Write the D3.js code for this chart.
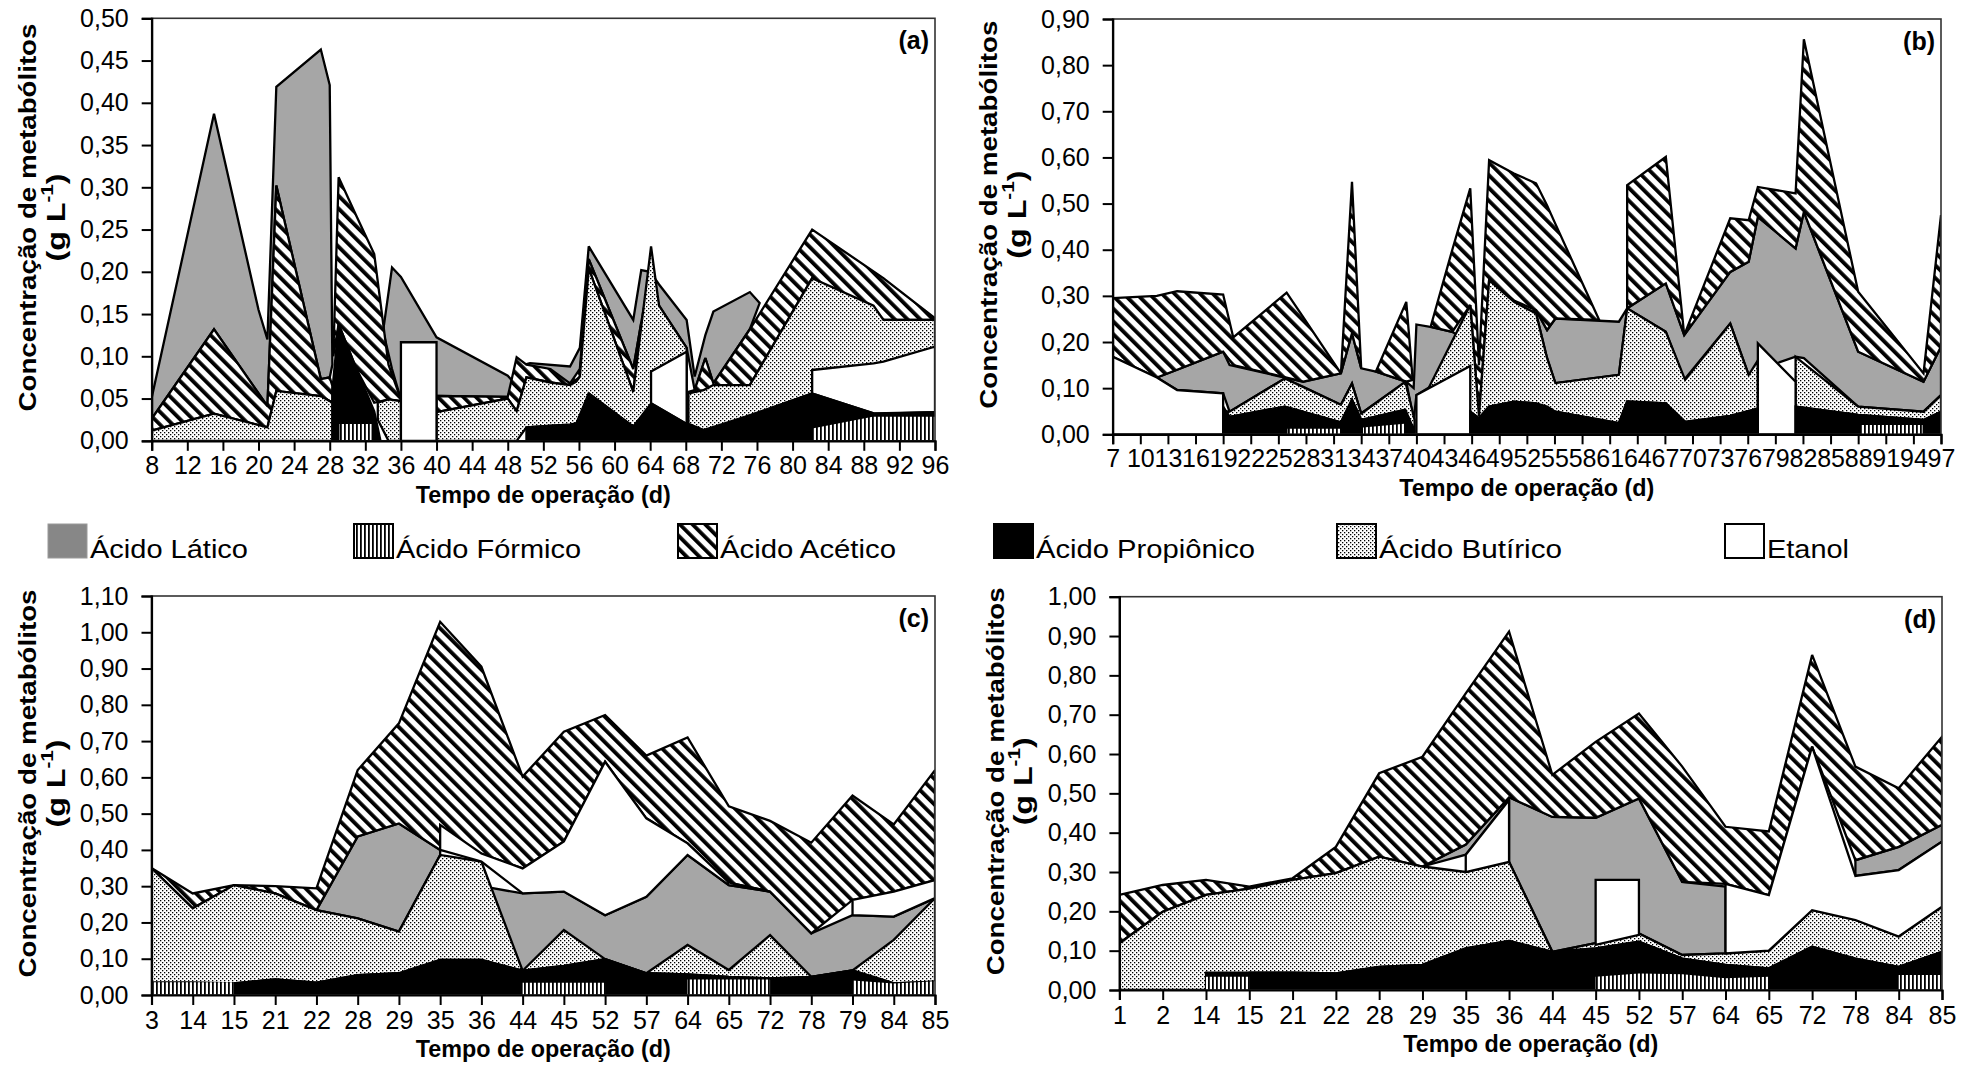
<!DOCTYPE html>
<html>
<head>
<meta charset="utf-8">
<script src="https://cdn.jsdelivr.net/npm/d3@7"></script>
<style>
  html, body { margin: 0; padding: 0; background: #fff; }
  svg text { font-family: "Liberation Sans", Arial, Helvetica, sans-serif; fill: #000; }
</style>
</head>
<body>
<svg id="chart" width="1979" height="1071"></svg>
<script>
// ---------------------------------------------------------------------------
// Metabolite concentrations (g/L) over operation time, four reactors (a)-(d).
// Each series is a list of [x, lower, upper] points; null breaks the polygon.
// Panels (a) and (b) use operation day as x, (c) and (d) use sampling days
// as categories.
// ---------------------------------------------------------------------------

const seriesNames = {
  latico: "Ácido Lático",
  formico: "Ácido Fórmico",
  acetico: "Ácido Acético",
  propionico: "Ácido Propiônico",
  butirico: "Ácido Butírico",
  etanol: "Etanol"
};

// ----- (a) -----
const aTicks = [8, 12, 16, 20, 24, 28, 32, 36, 40, 44, 48, 52, 56, 60, 64, 68, 72, 76, 80, 84, 88, 92, 96];
const aYTicks = [0, 0.05, 0.10, 0.15, 0.20, 0.25, 0.30, 0.35, 0.40, 0.45, 0.50];

const aLatico = [
  [8, .026, .051], [15, .132, .387], [20, .056, .155], [21, .041, .12], [22, .302, .419],
  [27, .073, .463], [28, .075, .421], [28.3, .09, .09], null,
  [34, .13, .13], [35, .085, .205], [36, .049, .194], [40, .053, .1225], [48, .052, .077],
  [48.6, .07, .07], null,
  [49.8, .09, .09], [50.5, .085, .092], [55, .068, .088], [56.1, .076, .11], [57.1, .215, .23],
  [62.1, .085, .143], [63, .14, .202], [64, .2, .2], [65, .16, .185], [68.1, .11, .143],
  [69, .06, .076], [70.2, .098, .125], [71.1, .068, .153], [75.2, .132, .176], [76.3, .163, .163]
];
const aAcetico = [
  [8, .012, .026], [15, .032, .132], [21, .016, .041], [22, .059, .302], [27, .053, .073],
  [28, .047, .075], [28.3, .046, .065], null,
  [28.4, .1, .1], [29, .138, .312], [31, .085, .266], [33, .045, .221], [34.6, .049, .09],
  [36, .047, .049], null,
  [40, .034, .053], [48, .05, .052], [49, .035, .099], [50.1, .075, .09], [52.8, .069, .085],
  [55, .066, .068], [56.1, .076, .085], [57.1, .204, .215], [62.1, .058, .085], [63, .139, .14], null,
  [68.3, .056, .058], [69, .058, .06], [70.2, .06, .098], [71.1, .066, .068], [75.2, .066, .132],
  [82.2, .1925, .25], [90.2, .143, .1925], [96, .143, .145]
];
const aButirico = [
  [8, 0, .012], [15, 0, .032], [21, 0, .016], [22, 0, .059], [27, 0, .053], [28, 0, .047],
  [28.3, 0, .046], null,
  [33.4, .025, .045], [34.6, 0, .049], [36, 0, .047], null,
  [40, 0, .034], [48, 0, .05], [49, 0, .035], [50.1, .016, .075], [52.8, .018, .069],
  [55, .019, .066], [55.7, .0206, .07], [56.1, .025, .076], [57.1, .056, .204], [62.1, .0166, .058],
  [64.1, .044, .23], [65, .04, .16], [68.1, .02, .11], null,
  [68.3, .02, .056], [70, .0126, .06], [71.1, .015, .066], [75.2, .03, .066], [82.2, .056, .1925],
  [89.1, .0324, .16], [90.2, .032, .143], [96, .034, .143]
];
const aEtanol = [
  [36, 0, .1166], [40, 0, .1166], null,
  [64.1, .044, .082], [68.1, .02, .1055], null,
  [82.2, .056, .0838], [89.1, .0324, .0915], [90.2, .032, .0937], [96, .034, .1115]
];
const aPropionico = [
  [28.3, 0, .06], [29, 0, .138], [31, 0, .085], [33, 0, .035], [33.7, 0, 0], null,
  [50.1, 0, .016], [55, 0, .019], [55.7, 0, .0206], [57.1, 0, .056], [62.1, 0, .0166],
  [64.2, 0, .044], [68.1, 0, .02], [70, 0, .0126], [75.2, 0, .03], [82.2, 0, .056],
  [89.1, 0, .0324], [96, 0, .034]
];
const aFormico = [
  [29.1, 0, .0198], [32.7, 0, .0198], null,
  [82.2, 0, .0146], [89, 0, .0285], [96, 0, .0285]
];

// ----- (b) -----
const bTicks = [7, 10, 13, 16, 19, 22, 25, 28, 31, 34, 37, 40, 43, 46, 49, 52, 55, 58, 61, 64, 67, 70, 73, 76, 79, 82, 85, 88, 91, 94, 97];
const bYTicks = [0, 0.10, 0.20, 0.30, 0.40, 0.50, 0.60, 0.70, 0.80, 0.90];

const bLatico = [
  [11.8, .123, .123], [14, .096, .14], [19, .089, .179], [19.7, .049, .15], [25.7, .121, .123],
  [27.7, .103, .114], [31.8, .064, .132], [33, .11, .219], [34, .045, .143], [35.6, .068, .136],
  [38.9, .114, .114], [39.7, .031, .1], [40, .085, .238], [41.5, .103, .233], [43.9, .178, .222],
  [44.8, .21, .21], null,
  [52.5, .265, .265], [53, .262, .269], [54.2, .165, .226], [55.1, .111, .251], [62, .129, .244],
  [62.9, .273, .273], [67.1, .222, .327], [69.1, .118, .215], [74.1, .24, .352], [76.1, .1285, .374],
  [77.1, .14, .471], [81.2, .168, .403], [82.1, .165, .482], [88, .06, .179], [95.1, .049, .114],
  [97, .085, .19]
];
const bAcetico = [
  [7, .168, .295], [11.8, .123, .30], [14, .14, .31], [19, .179, .303], [20.1, .15, .21],
  [25.9, .123, .307], [27.7, .114, .254], [31.8, .132, .132], [33, .219, .547], [34, .143, .143], null,
  [35.6, .136, .136], [38.9, .114, .287], [39.6, .118, .118], null,
  [41.6, .233, .237], [43.9, .222, .40], [45.85, .28, .533], [46.8, .04, .15], [47.9, .334, .594],
  [50.6, .29, .565], [53, .269, .544], [54.2, .226, .496], [55.1, .251, .456], [59.85, .248, .248], null,
  [62.9, .273, .54], [67.1, .327, .601], [69.1, .215, .215], [74.1, .352, .468], [76.1, .374, .464],
  [77.1, .471, .536], [81.2, .403, .522], [82.1, .482, .856], [88, .179, .309], [95.1, .114, .132],
  [97, .19, .475]
];
const bButirico = [
  [19.2, .05, .05], [19.7, .038, .049], [25.7, .06, .121], [31.8, .026, .064], [33, .075, .11],
  [34, .031, .045], [38.8, .053, .114], [39.8, .006, .031], null,
  [41.4, .103, .103], [45.85, .049, .28], [46.8, .035, .04], [47.9, .06, .334], [50.6, .071, .287],
  [53, .067, .262], [54.2, .06, .165], [55.1, .049, .111], [62, .024, .129], [62.9, .071, .273],
  [67.1, .067, .222], [69.2, .027, .118], [74.1, .04, .24], [76.1, .05, .1285], [77.1, .056, .16], null,
  [81.2, .06, .168], [88, .042, .06], [95.1, .031, .049], [97, .049, .085]
];
const bEtanol = [
  [7, 0, .168], [11.8, 0, .123], [14, 0, .096], [19, 0, .089], null,
  [40, 0, .085], [45.85, 0, .148], null,
  [77.1, 0, .197], [81.2, 0, .114]
];
const bPropionico = [
  [19, 0, .06], [19.7, 0, .038], [25.7, 0, .06], [31.8, 0, .026], [33, 0, .075], [34, 0, .031],
  [38.7, 0, .053], [39.8, 0, .006], null,
  [45.85, 0, .049], [46.8, 0, .035], [47.9, 0, .06], [50.6, 0, .071], [53, 0, .067], [55.1, 0, .049],
  [62, 0, .024], [62.9, 0, .071], [67.1, 0, .067], [69.2, 0, .027], [74.1, 0, .04], [77.1, 0, .056], null,
  [81.2, 0, .06], [88, 0, .042], [95.1, 0, .031], [97, 0, .049]
];
const bFormico = [
  [26, 0, .012], [31.8, 0, .012], null,
  [34.2, 0, .015], [38.7, 0, .023], null,
  [88.2, 0, .02], [95, 0, .02]
];

// ----- (c) -----
const cCats = [3, 14, 15, 21, 22, 28, 29, 35, 36, 44, 45, 52, 57, 64, 65, 72, 78, 79, 84, 85];
const cYTicks = [0, 0.10, 0.20, 0.30, 0.40, 0.50, 0.60, 0.70, 0.80, 0.90, 1.00, 1.10];

const cLatico = [
  [22, .234, .234], [28, .211, .437], [29, .175, .473], [35, .386, .40], null,
  [36, .0965, .30], [44, .067, .28], [45, .08, .285], [52, .099, .22], [57, .06, .271], [64, .057, .386],
  [65, .05, .303], [72, .046, .285], [78, .05, .17], [79, .068, .22], [84, .032, .216], [85, .037, .267]
];
const cAcetico = [
  [3, .35, .35], [14, .239, .28], [15, .303, .303], [21, .28, .30], [22, .234, .294], [28, .437, .62],
  [29, .473, .749], [35, .40, 1.029], [36, .39, .905], [44, .349, .602], [45, .423, .726],
  [52, .643, .772], [57, .487, .66], [64, .418, .71], [65, .31, .52], [72, .285, .48], [78, .17, .42],
  [79, .262, .55], [84, .285, .47], [85, .317, .62]
];
const cButirico = [
  [3, .035, .35], [14, .035, .239], [15, .032, .303], [21, .043, .28], [22, .034, .234], [28, .055, .211],
  [29, .06, .175], [35, .0965, .386], [36, .0965, .368], [44, .067, .067], [45, .08, .179], [52, .099, .099],
  [57, .06, .06], [64, .057, .138], [65, .05, .069], [72, .046, .165], [78, .05, .05], [79, .068, .068],
  [84, .032, .152], [85, .037, .267]
];
const cEtanol = [
  [35, .40, .469], [36, .368, .39], [44, .28, .349], [45, .285, .423], [52, .22, .643], [57, .271, .487],
  [64, .386, .418], [65, .303, .31], [72, .285, .285], null,
  [79, .22, .262], [84, .216, .285], [85, .267, .317]
];
const cPropionico = [
  [15, 0, .032], [21, 0, .043], [22, 0, .034], [28, 0, .055], [29, 0, .06], [35, 0, .0965], [36, 0, .0965],
  [44, 0, .067], [45, 0, .08], [52, 0, .099], [57, 0, .06], [64, 0, .057], [65, 0, .05], [72, 0, .046],
  [78, 0, .05], [79, 0, .068], [84, 0, .032], [85, 0, .037]
];
const cFormico = [
  [3, 0, .035], [14, 0, .035], [15, 0, .035], null,
  [44, 0, .034], [45, 0, .034], [52, 0, .034], null,
  [64, 0, .043], [65, 0, .043], [72, 0, .043], null,
  [79, 0, .04], [84, 0, .032], [85, 0, .038]
];

// ----- (d) -----
const dCats = [1, 2, 14, 15, 21, 22, 28, 29, 35, 36, 44, 45, 52, 57, 64, 65, 72, 78, 84, 85];
const dYTicks = [0, 0.10, 0.20, 0.30, 0.40, 0.50, 0.60, 0.70, 0.80, 0.90, 1.00];

const dLatico = [
  [29, .314, .314], [35, .344, .37], [36, .483, .49], null,
  [36, .326, .49], [44, .097, .44], [45, .119, .438], [52, .144, .487], [57, .089, .275], [64, .093, .263], null,
  [78, .29, .33], [84, .305, .364], [85, .377, .42]
];
const dAcetico = [
  [1, .119, .242], [2, .199, .267], [14, .242, .28], [15, .258, .263], [21, .28, .284], [22, .297, .364],
  [28, .339, .551], [29, .314, .593], [35, .37, .754], [36, .49, .911], [44, .44, .547], [45, .438, .631],
  [52, .487, .703], [57, .275, .568], [64, .27, .415], [65, .2415, .403], [72, .619, .852], [78, .33, .568],
  [84, .364, .513], [85, .42, .644]
];
const dButirico = [
  [1, 0, .119], [2, 0, .199], [14, 0, .242], [15, .044, .258], [21, .044, .28], [22, .042, .297],
  [28, .059, .339], [29, .064, .314], [35, .106, .30], [36, .125, .326], [44, .097, .097], [45, .106, .119],
  [52, .123, .144], [57, .08, .089], [64, .064, .093], [65, .055, .10], [72, .11, .203], [78, .08, .178],
  [84, .059, .136], [85, .097, .212]
];
const dEtanol = [
  [35, .30, .344], [36, .326, .483], null,
  [45, .115, .28], [52, .14, .28], null,
  [64, .093, .27], [65, .10, .2415], [72, .203, .619], [78, .178, .29], [84, .136, .305], [85, .212, .377]
];
const dPropionico = [
  [14, 0, .044], [15, 0, .044], [21, 0, .044], [22, 0, .042], [28, 0, .059], [29, 0, .064], [35, 0, .106],
  [36, 0, .125], [44, 0, .097], [45, 0, .106], [52, 0, .123], [57, 0, .08], [64, 0, .064], [65, 0, .055],
  [72, 0, .11], [78, 0, .08], [84, 0, .059], [85, 0, .097]
];
const dFormico = [
  [14, 0, .034], [15, 0, .034], null,
  [45, 0, .034], [52, 0, .042], [57, 0, .04], [64, 0, .03], [65, 0, .034], null,
  [84, 0, .038], [85, 0, .038]
];

// ---------------------------------------------------------------------------
// Layout
// ---------------------------------------------------------------------------
const panels = [
  { label: "(a)", type: "linear", domain: [8, 96], ticks: aTicks, yMax: 0.5, yTicks: aYTicks,
    left: 151.7, right: 935, top: 18.3, bottom: 440.8, labelPad: 5,
    series: { latico: aLatico, acetico: aAcetico, butirico: aButirico, etanol: aEtanol, propionico: aPropionico, formico: aFormico } },
  { label: "(b)", type: "linear", domain: [7, 97], ticks: bTicks, yMax: 0.9, yTicks: bYTicks,
    left: 1112.7, right: 1941, top: 19, bottom: 434.3, labelPad: 5,
    series: { latico: bLatico, acetico: bAcetico, butirico: bButirico, etanol: bEtanol, propionico: bPropionico, formico: bFormico } },
  { label: "(c)", type: "point", cats: cCats, yMax: 1.1, yTicks: cYTicks,
    left: 151.5, right: 935, top: 596, bottom: 995, labelPad: 6,
    series: { latico: cLatico, acetico: cAcetico, butirico: cButirico, etanol: cEtanol, propionico: cPropionico, formico: cFormico } },
  { label: "(d)", type: "point", cats: dCats, yMax: 1.0, yTicks: dYTicks,
    left: 1119.4, right: 1942, top: 596.7, bottom: 990, labelPad: 6,
    series: { latico: dLatico, acetico: dAcetico, butirico: dButirico, etanol: dEtanol, propionico: dPropionico, formico: dFormico } }
];

const svg = d3.select("#chart");
const defs = svg.append("defs");

// Fill patterns
(function buildPatterns() {
  const f = defs.append("pattern").attr("id", "pat-formico")
    .attr("patternUnits", "userSpaceOnUse").attr("width", 4).attr("height", 10);
  f.append("rect").attr("width", 4).attr("height", 10).attr("fill", "#fff");
  f.append("rect").attr("x", 0).attr("width", 1.8).attr("height", 10).attr("fill", "#000");

  const a = defs.append("pattern").attr("id", "pat-acetico")
    .attr("patternUnits", "userSpaceOnUse").attr("width", 9).attr("height", 9)
    .attr("patternTransform", "rotate(-45)");
  a.append("rect").attr("width", 9).attr("height", 9).attr("fill", "#fff");
  a.append("rect").attr("x", 0).attr("width", 3.8).attr("height", 9).attr("fill", "#000");

  const b = defs.append("pattern").attr("id", "pat-butirico")
    .attr("patternUnits", "userSpaceOnUse").attr("width", 4).attr("height", 4);
  b.append("rect").attr("width", 4).attr("height", 4).attr("fill", "#fff");
  b.append("rect").attr("x", 0).attr("y", 0).attr("width", 1.3).attr("height", 1.3).attr("fill", "#000");
  b.append("rect").attr("x", 2).attr("y", 2).attr("width", 1.3).attr("height", 1.3).attr("fill", "#000");
})();

const styles = {
  latico:     { fill: "#a6a6a6", stroke: "#000" },
  acetico:    { fill: "url(#pat-acetico)", stroke: "#000" },
  butirico:   { fill: "url(#pat-butirico)", stroke: "#000" },
  etanol:     { fill: "#fff", stroke: "#000" },
  propionico: { fill: "#000", stroke: "#000" },
  formico:    { fill: "url(#pat-formico)", stroke: "none" }
};
const drawOrder = ["latico", "acetico", "butirico", "etanol", "propionico", "formico"];

function segments(points) {
  const out = [];
  let cur = [];
  points.forEach(p => {
    if (p === null) { if (cur.length) out.push(cur); cur = []; }
    else cur.push(p);
  });
  if (cur.length) out.push(cur);
  return out;
}

const fmt = d3.format(".2f");
const commaFmt = v => fmt(v).replace(".", ",");

panels.forEach((p, i) => {
  const g = svg.append("g").attr("class", "panel");

  const x = p.type === "linear"
    ? d3.scaleLinear().domain(p.domain).range([p.left, p.right])
    : d3.scalePoint().domain(p.cats).range([p.left, p.right]);
  const y = d3.scaleLinear().domain([0, p.yMax]).range([p.bottom, p.top]);

  const clipId = "clip-" + i;
  defs.append("clipPath").attr("id", clipId).append("rect")
    .attr("x", p.left).attr("y", p.top)
    .attr("width", p.right - p.left).attr("height", p.bottom - p.top);

  const plot = g.append("g").attr("clip-path", `url(#${clipId})`);
  const area = d3.area()
    .x(d => x(d[0]))
    .y0(d => y(d[1]))
    .y1(d => y(d[2]));

  drawOrder.forEach(key => {
    segments(p.series[key]).forEach(seg => {
      plot.append("path")
        .attr("d", area(seg))
        .attr("fill", styles[key].fill)
        .attr("stroke", styles[key].stroke)
        .attr("stroke-width", 2.3)
        .attr("stroke-linejoin", "miter")
        .attr("stroke-miterlimit", 3);
    });
  });

  // frame (top and right)
  g.append("rect")
    .attr("x", p.left).attr("y", p.top)
    .attr("width", p.right - p.left).attr("height", p.bottom - p.top)
    .attr("fill", "none").attr("stroke", "#333").attr("stroke-width", 1.6);

  // y axis
  const yAxis = d3.axisLeft(y).tickValues(p.yTicks).tickFormat(commaFmt).tickSize(10).tickPadding(13);
  const ya = g.append("g").attr("transform", `translate(${p.left},0)`).call(yAxis);
  ya.select(".domain").attr("stroke", "#000").attr("stroke-width", 2.2);
  ya.selectAll(".tick line").attr("stroke", "#000").attr("stroke-width", 2);
  ya.selectAll(".tick text").attr("font-size", 25).attr("font-family", null);

  // x axis
  const xAxis = d3.axisBottom(x).tickSize(10).tickPadding(p.labelPad);
  if (p.type === "linear") xAxis.tickValues(p.ticks).tickFormat(d3.format("d"));
  const xa = g.append("g").attr("transform", `translate(0,${p.bottom})`).call(xAxis);
  xa.select(".domain").attr("stroke", "#000").attr("stroke-width", 2.2);
  xa.selectAll(".tick line").attr("stroke", "#000").attr("stroke-width", 2);
  xa.selectAll(".tick text").attr("font-size", 25).attr("font-family", null);
  g.selectAll(".domain").attr("fill", "none");

  // axis titles
  const midX = (p.left + p.right) / 2;
  g.append("text")
    .attr("x", midX).attr("y", p.bottom + 62)
    .attr("text-anchor", "middle").attr("font-weight", "bold").attr("font-size", 23)
    .attr("textLength", 255).attr("lengthAdjust", "spacingAndGlyphs")
    .text("Tempo de operação (d)");

  const midY = (p.top + p.bottom) / 2 - 12;
  g.append("text")
    .attr("transform", `translate(${p.left - 124},${midY}) rotate(-90)`)
    .attr("text-anchor", "middle").attr("dominant-baseline", "central")
    .attr("font-weight", "bold").attr("font-size", 24)
    .attr("textLength", 388).attr("lengthAdjust", "spacingAndGlyphs")
    .text("Concentração de metabólitos");
  const unit = g.append("text")
    .attr("transform", `translate(${p.left - 96},${midY}) rotate(-90)`)
    .attr("text-anchor", "middle").attr("dominant-baseline", "central")
    .attr("font-weight", "bold").attr("font-size", 25)
    .attr("textLength", 88).attr("lengthAdjust", "spacingAndGlyphs");
  unit.append("tspan").text("(g L");
  unit.append("tspan").attr("baseline-shift", "super").attr("font-size", 16).text("-1");
  unit.append("tspan").text(")");

  // panel letter
  g.append("text")
    .attr("x", p.right - 6).attr("y", p.top + 31)
    .attr("text-anchor", "end").attr("font-weight", "bold").attr("font-size", 25)
    .text(p.label);
});

// ---------------------------------------------------------------------------
// Legend
// ---------------------------------------------------------------------------
const legendItems = [
  { key: "latico",     box: 48,   width: 158, swatch: "#878787" },
  { key: "formico",    box: 354,  width: 185, swatch: "url(#pat-formico)" },
  { key: "acetico",    box: 678,  width: 176, swatch: "url(#pat-acetico)" },
  { key: "propionico", box: 994,  width: 219, swatch: "#000" },
  { key: "butirico",   box: 1337, width: 183, swatch: "url(#pat-butirico)" },
  { key: "etanol",     box: 1725, width: 82,  swatch: "#fff" }
];
const legend = svg.append("g").attr("class", "legend");
legendItems.forEach(item => {
  legend.append("rect")
    .attr("x", item.box).attr("y", 524).attr("width", 39).attr("height", 34)
    .attr("fill", item.swatch)
    .attr("stroke", item.key === "latico" ? "#9a9a9a" : "#000")
    .attr("stroke-width", item.key === "latico" ? 1 : 2);
  legend.append("text")
    .attr("x", item.box + 42).attr("y", 558)
    .attr("font-size", 25)
    .attr("textLength", item.width).attr("lengthAdjust", "spacingAndGlyphs")
    .text(seriesNames[item.key]);
});
</script>
</body>
</html>
